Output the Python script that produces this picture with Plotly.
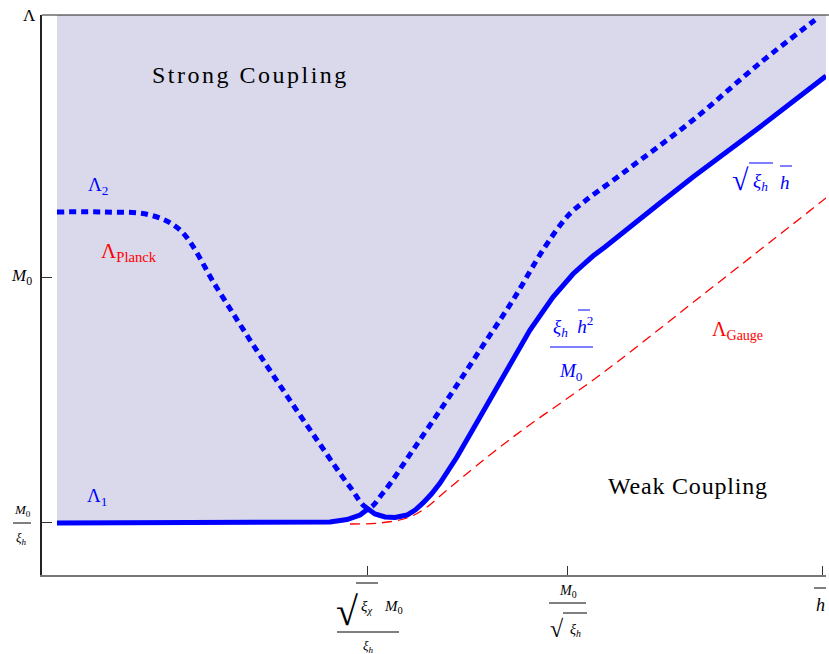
import plotly.graph_objects as go

# ---- data (arbitrary log-scale units, axes 0..100) ----
lam1_x = [1.91, 10, 20, 30, 33.42, 36.73, 38.90, 40.56, 41.58, 42.47, 43.75, 45.03, 46.56, 47.6,
          48.60, 49.7, 50.77, 52.93, 55.87, 59.31, 62.24, 65.18, 66.45, 67.73, 69.01, 70.28, 71.81,
          74.62, 78.83, 83.04, 91.58, 100]
lam1_y = [9.29, 9.29, 9.29, 9.29, 9.29, 9.46, 9.91, 10.71, 11.79, 10.89, 10.36, 10.27, 10.71, 11.6,
          12.86, 14.5, 16.43, 21.07, 28.21, 36.61, 43.75, 49.64, 51.79, 53.75, 55.36, 56.96, 58.57,
          61.61, 66.43, 71.07, 80.0, 89.1]

lam2_x = [1.91, 8, 13.78, 17.60, 22.32, 26.53, 30.74, 35.08, 39.29, 41.58, 43.49, 47.32,
          51.66, 55.87, 60.08, 63.90, 66.71, 67.98, 74.62, 83.04, 91.58, 98.6]
lam2_y = [64.82, 64.82, 64.29, 61.61, 51.25, 41.96, 33.04, 24.11, 15.71, 11.96, 14.64, 22.32,
          31.25, 40.18, 49.11, 58.04, 63.57, 65.36, 72.32, 81.25, 91.43, 99.1]

gauge_x = [39.29, 43.11, 46.56, 48.98, 51.66, 60.08, 71.17, 83.93, 100]
gauge_y = [9.11, 9.29, 10.18, 12.0, 15.18, 24.64, 35.71, 49.64, 67.32]

cutoff = [100] * len(lam1_x)

xtick_vals = [41.58, 67.09, 99.49]
ytick_vals = [9.29, 53.21, 100]

BLUE = "#0000ff"
RED = "#ff0000"
FILL = "rgb(217,217,235)"
SERIF = "Liberation Serif"

fig = go.Figure()
fig.add_trace(go.Scatter(x=lam1_x, y=cutoff, mode="lines", line=dict(width=0),
                         hoverinfo="skip", showlegend=False))
fig.add_trace(go.Scatter(x=lam1_x, y=lam1_y, mode="lines", fill="tonexty", fillcolor=FILL,
                         line=dict(color=BLUE, width=5), showlegend=False))
fig.add_trace(go.Scatter(x=gauge_x, y=gauge_y, mode="lines", line_shape="spline",
                         line=dict(color=RED, width=1.3, dash="10px,6px"), showlegend=False))
fig.add_trace(go.Scatter(x=lam2_x, y=lam2_y, mode="lines", line_shape="spline",
                         line=dict(color=BLUE, width=5, dash="7px,5px"), showlegend=False))

L, T, W, H = 42, 15, 784, 560


def px(x):
    return (x - L) / W


def py(y):
    return (T + H - y) / H


anns = []
shapes = []


def text(s, x, y, size, color="black", xanchor="center"):
    anns.append(dict(text=s, x=px(x), y=py(y), xref="paper", yref="paper", showarrow=False,
                     xanchor=xanchor, yanchor="middle",
                     font=dict(family=SERIF, size=size, color=color)))


def hline(x0, x1, y, color="black", width=1):
    shapes.append(dict(type="line", xref="paper", yref="paper", x0=px(x0), x1=px(x1),
                       y0=py(y), y1=py(y), line=dict(color=color, width=width)))


# top frame line
hline(42, 829, 15, color="#222", width=1.2)

# y tick labels
text("Λ", 29, 15, 17)
text("<i>M</i><sub>0</sub>", 21, 277, 17)
text("<i>M</i><sub>0</sub>", 22, 510, 13)
hline(13, 31, 523, width=1)
text("<i>ξ<sub>h</sub></i>", 21, 538, 13)

# x tick labels
text("√", 347, 611, 40)
text("<i>ξ<sub>χ</sub></i>", 366, 607, 15)
text("<i>M</i><sub>0</sub>", 393, 607, 15)
hline(356, 378, 583, width=1)
hline(337, 399, 632, width=1)
text("<i>ξ<sub>h</sub></i>", 368, 646, 13)

text("<i>M</i><sub>0</sub>", 568, 592, 14)
hline(549, 586, 603, width=1)
text("√", 557, 629, 24)
text("<i>ξ<sub>h</sub></i>", 575, 630, 14)
hline(563, 587, 613, width=1)

text("<i>h</i>", 820, 605, 18)
hline(814, 826, 588, width=1)

# in-plot labels
text('<span style="letter-spacing:2.5px">Strong Coupling</span>', 250, 75, 24)
text('<span style="letter-spacing:0.8px">Weak Coupling</span>', 688, 486, 24)
text("Λ<sub>2</sub>", 98, 186, 19, BLUE)
text("Λ<sub>1</sub>", 97, 497, 19, BLUE)
text("Λ<sub>Planck</sub>", 129, 252, 21, RED)
text("Λ<sub>Gauge</sub>", 737, 330, 20, RED)

text("<i>ξ<sub>h</sub></i>  <i>h</i><sup>2</sup>", 573, 326, 19, BLUE)
hline(578, 590, 310, color=BLUE, width=1)
hline(550, 593, 347, color=BLUE, width=1.2)
text("<i>M</i><sub>0</sub>", 571, 372, 19, BLUE)

text("√", 740, 180, 30, BLUE)
text("<i>ξ<sub>h</sub></i>", 760, 182, 19, BLUE)
hline(749, 773, 163, color=BLUE, width=1)
text("<i>h</i>", 785, 182, 19, BLUE)
hline(780, 792, 166, color=BLUE, width=1)

fig.update_layout(
    width=829, height=654,
    margin=dict(l=L, r=829 - L - W, t=T, b=654 - T - H),
    paper_bgcolor="white", plot_bgcolor="white",
    annotations=anns, shapes=shapes,
    xaxis=dict(range=[0, 100], tickvals=xtick_vals, ticktext=["", "", ""], ticks="inside",
               ticklen=9, tickcolor="#333", showline=True, linecolor="#777", linewidth=1.5,
               showgrid=False, zeroline=False, fixedrange=True),
    yaxis=dict(range=[0, 100], tickvals=ytick_vals, ticktext=["", "", ""], ticks="inside",
               ticklen=10, tickcolor="#333", showline=True, linecolor="#222", linewidth=1.5,
               showgrid=False, zeroline=False, fixedrange=True),
)

fig.write_html("out.html", config={"displayModeBar": False},
               post_script="document.body.style.margin='0px';")
